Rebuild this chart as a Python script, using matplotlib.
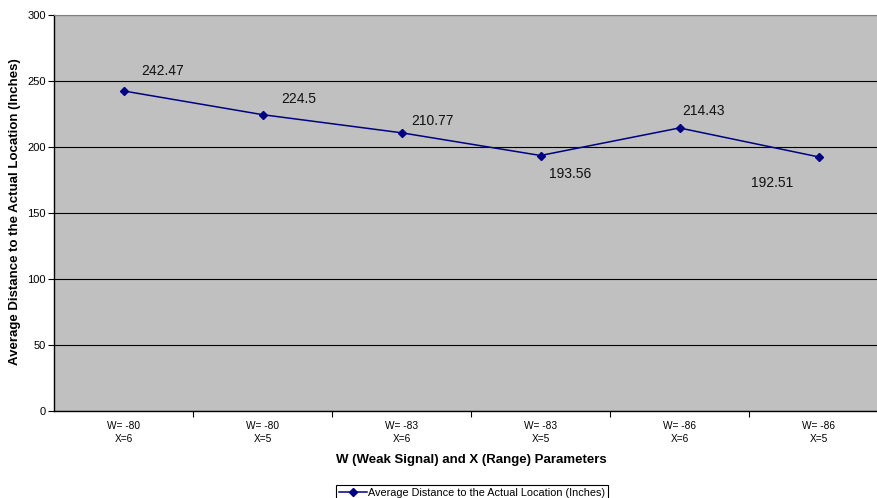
import matplotlib
matplotlib.use("Agg")
import matplotlib.pyplot as plt
from matplotlib.ticker import MultipleLocator

plt.rcParams['font.family'] = ['Liberation Sans', 'DejaVu Sans']

categories = ["W= -80\nX=6", "W= -80\nX=5", "W= -83\nX=6", "W= -83\nX=5", "W= -86\nX=6", "W= -86\nX=5"]
values = [242.47, 224.5, 210.77, 193.56, 214.43, 192.51]
value_labels = ["242.47", "224.5", "210.77", "193.56", "214.43", "192.51"]
label_offsets = [(18, 20), (19, 16), (10, 12), (8, -18), (3, 17), (-67, -26)]  # pixels

W, H = 878, 498
fig = plt.figure(figsize=(W / 100, H / 100), dpi=100)
left, right, top, bottom = 54, 888, 15, 411
ax = fig.add_axes([left / W, 1 - bottom / H, (right - left) / W, (bottom - top) / H])
ax.set_facecolor('#c0c0c0')

x = list(range(len(values)))
ax.plot(x, values, color='#000080', lw=1.1, marker='D', ms=4.2, mec='#000080', mfc='#000080',
        label='Average Distance to the Actual Location (Inches)', zorder=3)

for xi, v, lab, (dx, dy) in zip(x, values, value_labels, label_offsets):
    ax.annotate(lab, (xi, v), xytext=(dx * 0.72, dy * 0.72), textcoords='offset points',
                ha='left', va='center', fontsize=10, color='#111111')

ax.set_xlim(-0.5, len(values) - 0.5)
ax.set_ylim(0, 300)
ax.yaxis.set_major_locator(MultipleLocator(50))
ax.grid(axis='y', color='black', lw=0.8)
ax.set_axisbelow(True)

ax.set_xticks([i + 0.5 for i in range(len(values) - 1)])
ax.set_xticklabels([])
ax.set_xticks(x, minor=True)
ax.set_xticklabels(categories, minor=True, fontsize=7.3, linespacing=1.45)
ax.tick_params(axis='x', which='minor', length=0, pad=7)
ax.tick_params(axis='x', which='major', length=4, direction='out', color='black')
ax.tick_params(axis='y', length=4, direction='out', labelsize=8, pad=2)

ax.spines['top'].set_color('#808080')
ax.spines['top'].set_linewidth(0.8)
ax.spines['right'].set_visible(False)
for s in ['left', 'bottom']:
    ax.spines[s].set_color('black')
    ax.spines[s].set_linewidth(1)

fig.text(471 / W, 1 - 460 / H, 'W (Weak Signal) and X (Range) Parameters', ha='center', va='center',
         fontsize=9.5, fontweight='bold')
fig.text(15 / W, 1 - 212 / H, 'Average Distance to the Actual Location (Inches)', ha='center', va='center',
         rotation=90, fontsize=9.5, fontweight='bold')

leg = fig.legend(loc='upper center', bbox_to_anchor=(472 / W, 1 - 485 / H), fontsize=7.8,
                 frameon=True, fancybox=False, edgecolor='black', framealpha=1,
                 handlelength=2.6, borderpad=0.3, handletextpad=0.1, borderaxespad=0)
leg.get_frame().set_linewidth(0.8)

fig.savefig('out.png', dpi=100)
